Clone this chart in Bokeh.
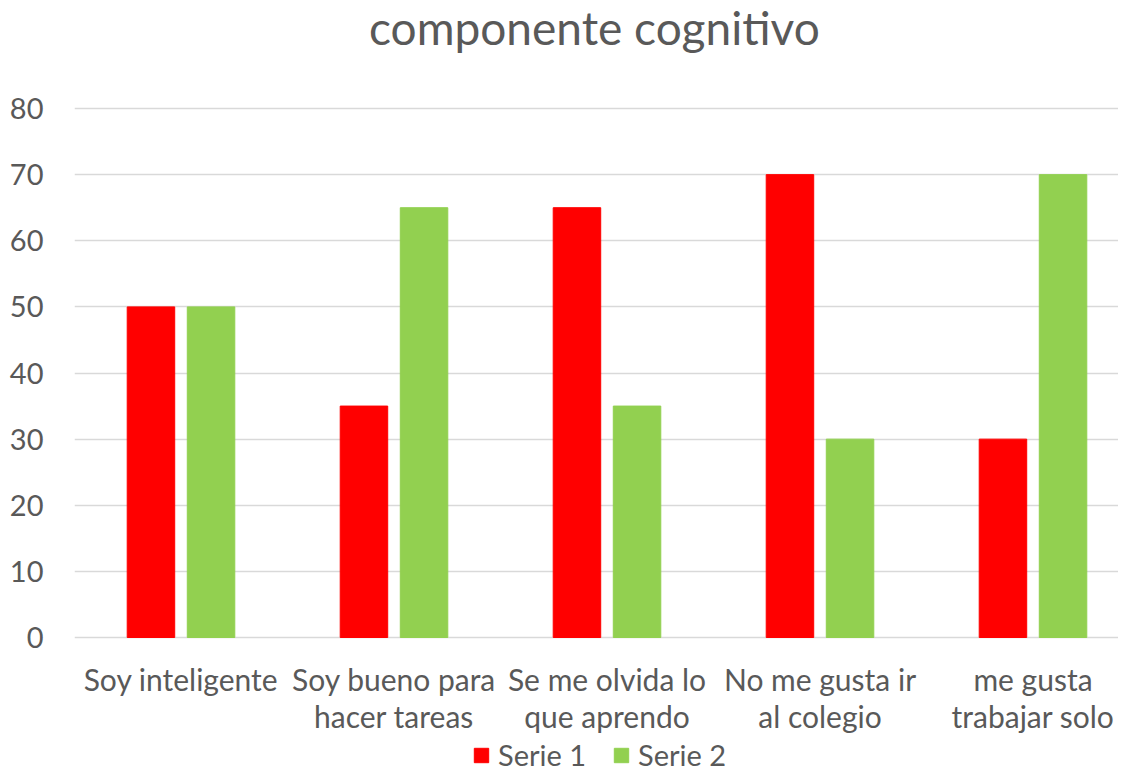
from bokeh.plotting import figure
from bokeh.models import (Range1d, FixedTicker, Legend, LegendItem, ColumnDataSource)
from bokeh.core.properties import value
from bokeh.embed import file_html
from bokeh.resources import INLINE

title = "componente cognitivo"
categories = ["Soy inteligente", "Soy bueno para\nhacer tareas", "Se me olvida lo\nque aprendo",
              "No me gusta ir\nal colegio", "me gusta\ntrabajar solo"]
serie1 = [50, 35, 65, 70, 30]
serie2 = [50, 65, 35, 30, 70]
series_names = ["Serie 1", "Serie 2"]
colors = ["#FF0000", "#92D050"]
y_ticks = [0, 10, 20, 30, 40, 50, 60, 70, 80]

FONT = "Lato"
TXT = "#595959"
W, H = 1118, 772
LEFT = 74
PX_PER_CAT = 213
Y0_PX, Y80_PX = 637, 108
PX_PER_UNIT = (Y0_PX - Y80_PX) / 80.0

centers = [i + 0.5 for i in range(len(categories))]
src = ColumnDataSource(dict(
    x1=[c - 0.141 for c in centers], x2=[c + 0.141 for c in centers],
    s1=serie1, s2=serie2))

y_top = 80 + Y80_PX / PX_PER_UNIT
y_bot = -(H - Y0_PX) / PX_PER_UNIT
x_end = (W - LEFT) / PX_PER_CAT
p = figure(width=W, height=H, output_backend="svg", toolbar_location=None,
           x_range=Range1d(0, x_end), y_range=Range1d(y_bot, y_top),
           x_axis_location=None,
           min_border_left=LEFT, min_border_right=0, min_border_top=0, min_border_bottom=0)
p.outline_line_color = None
p.background_fill_color = "white"
p.border_fill_color = "white"

p.ygrid.grid_line_color = "#D9D9D9"
p.ygrid.grid_line_width = 1.5
p.xgrid.grid_line_color = None

r1 = p.vbar(x="x1", top="s1", width=0.223, source=src, color=colors[0])
r2 = p.vbar(x="x2", top="s2", width=0.223, source=src, color=colors[1])

# chart title (inside the canvas, above the 80 gridline)
p.text(x=[x_end / 2 - 0.01], y=[y_top - 27 / PX_PER_UNIT], text=[title], text_align="center",
       text_baseline="middle", text_font=value(FONT), text_font_size="46px", text_color=TXT)

# category labels drawn under the zero line
lab_src = ColumnDataSource(dict(x=centers, text=categories))
p.text(x="x", y=-3.5, text="text", source=lab_src, text_align="center", text_baseline="top",
       text_font=value(FONT), text_font_size="30px", text_color=TXT, text_line_height=1.03)

p.yaxis.ticker = FixedTicker(ticks=y_ticks)
p.yaxis.axis_line_color = None
p.yaxis.major_tick_line_color = None
p.yaxis.minor_tick_line_color = None
p.yaxis.major_label_text_font = FONT
p.yaxis.major_label_text_font_size = "29px"
p.yaxis.major_label_text_color = TXT
p.yaxis.major_label_standoff = 25

legend = Legend(items=[LegendItem(label=series_names[0], renderers=[r1]),
                       LegendItem(label=series_names[1], renderers=[r2])],
                orientation="horizontal", location=(398, 0),
                label_text_font=FONT, label_text_font_size="29px", label_text_color=TXT,
                glyph_width=18, glyph_height=18, spacing=26, padding=0, margin=0,
                border_line_color=None, background_fill_alpha=0, label_standoff=8)
p.add_layout(legend, "center")

open("out.html", "w").write(file_html(p, INLINE))
